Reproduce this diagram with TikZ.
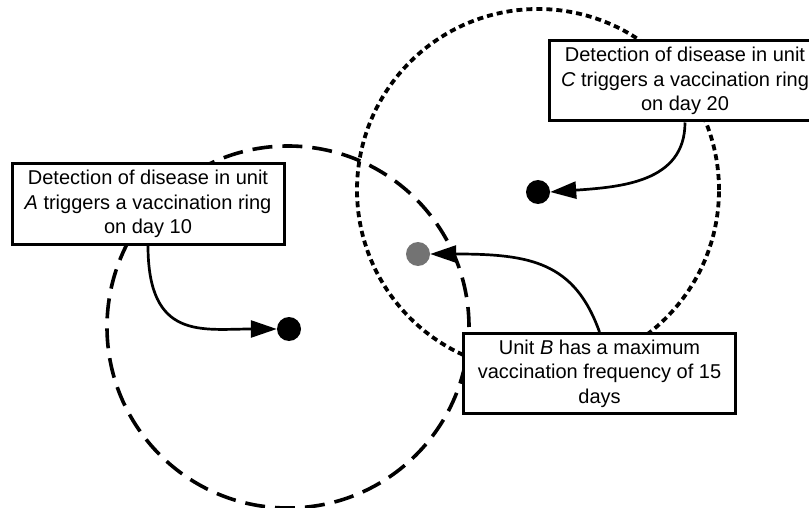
\documentclass[tikz,border=0pt]{standalone}
\usepackage{fontspec}
\setmainfont{Liberation Sans}
\usetikzlibrary{arrows.meta}
\begin{document}
\begin{tikzpicture}[x=1pt,y=-1pt,
  box/.style={draw, line width=3pt, fill=white, minimum width=272pt, minimum height=80pt,
    align=center, inner sep=0pt, font=\fontsize{20}{24.5}\selectfont},
  dotnode/.style={circle, fill=black, minimum size=24pt, inner sep=0pt},
  arr/.style={line width=2.7pt, -{Triangle[length=26pt,width=17pt]}},
  ringA/.style={line width=3.6pt, dash pattern=on 20pt off 10pt},
  ringC/.style={line width=3.8pt, dash pattern=on 6pt off 4pt},
]
\useasboundingbox (0,0) rectangle (809,508);
% rings
\draw[ringA] (288,327) circle[radius=181pt];
\draw[ringC] (538,190) circle[radius=181pt];
% dots
\node[dotnode] (dotA) at (289,329) {};
\node[dotnode] (dotC) at (538,192) {};
\node[dotnode, fill=black!55] (dotB) at (418,254) {};
% boxes
\node[box] (boxA) at (148,204) {Detection of disease in unit\\ \textit{A} triggers a vaccination ring\\ on day 10};
\node[box] (boxC) at (685,81) {Detection of disease in unit\\ \textit{C} triggers a vaccination ring\\ on day 20};
\node[box] (boxB) at (599.5,373.5) {Unit \textit{B} has a maximum\\ vaccination frequency of 15\\ days};
% arrows
\draw[arr] (boxA.south) .. controls +(0,95) and +(-75,0) .. (dotA.west);
\draw[arr] (boxC.south) .. controls +(0,60) and +(70,-5) .. (dotC.east);
\draw[arr] (boxB.north) .. controls +(-25,-70) and +(100,0) .. (dotB.east);
\end{tikzpicture}
\end{document}
